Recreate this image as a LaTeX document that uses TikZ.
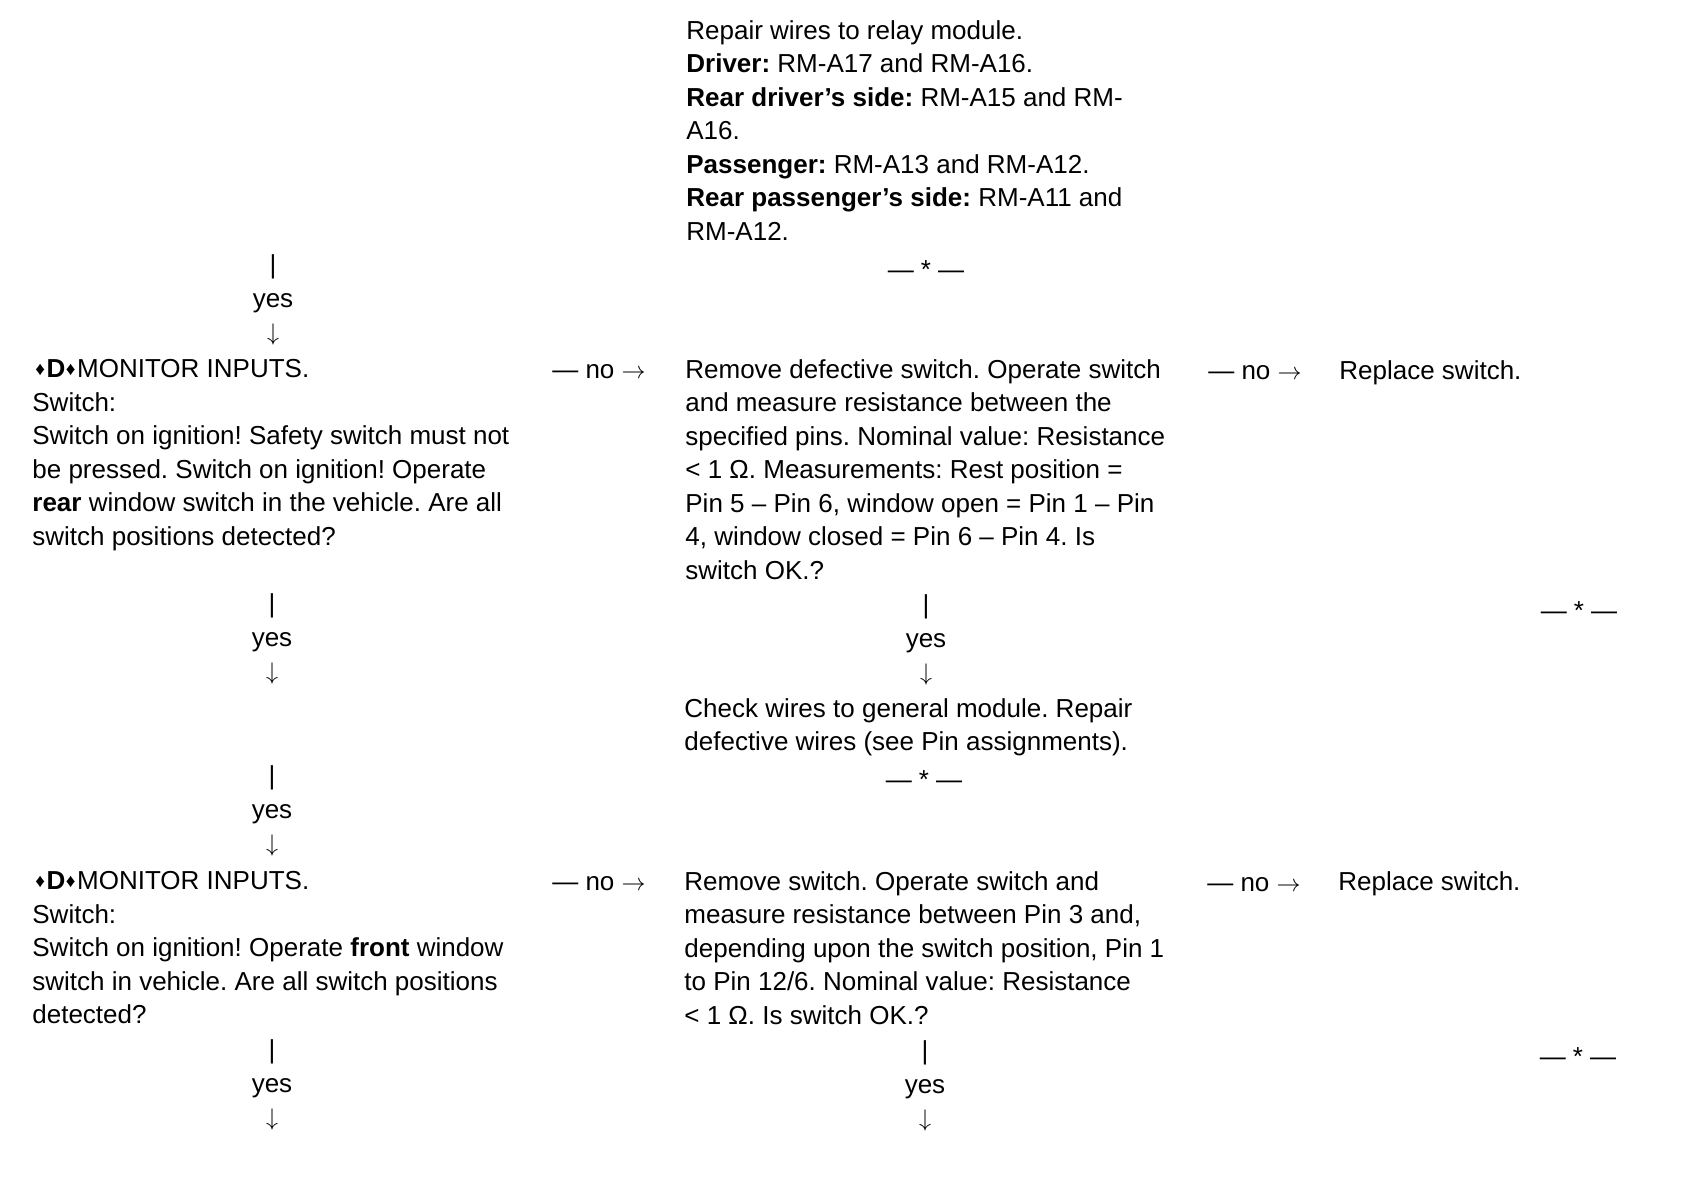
\documentclass[tikz,border=0pt]{standalone}
\usepackage{fontspec}
\setmainfont{Liberation Sans}
\usetikzlibrary{positioning}
\frenchspacing
\newcommand{\dmd}{{\fontsize{9.5}{9.5}\selectfont\raisebox{1.2pt}{♦}}}
\newcommand{\dmdD}{\hspace{1.5pt}\dmd\hspace{0.8pt}\textbf{D}\hspace{0.2pt}\dmd\hspace{0.8pt}}
\newcommand{\stopmark}{—\hspace{3.5pt}*\hspace{3.5pt}—}

\begin{document}
\begin{tikzpicture}[x=0.5pt, y=-0.5pt,
  txt/.style={anchor=north west, align=left, inner sep=0pt, font=\fontsize{13}{16.75}\selectfont},
  lbl/.style={inner sep=0pt, font=\fontsize{13}{16.75}\selectfont},
  flow/.style={lbl, align=center}]
\useasboundingbox (0,0) rectangle (1688,1184);
\node[txt] (rep) at (686,20) {Repair wires to relay module.\\
\textbf{Driver:} RM-A17 and RM-A16.\\
\textbf{Rear driver’s side:} RM-A15 and RM-\\
A16.\\
\textbf{Passenger:} RM-A13 and RM-A12.\\
\textbf{Rear passenger’s side:} RM-A11 and\\
RM-A12.};
\node[lbl] (end1) at (926,270) {\stopmark};
\node[flow] (yes1) at (273,300) {|\\yes\\$\downarrow$};
\node[txt] (d1) at (32,359) {\dmdD MONITOR INPUTS.\\
Switch:\\
Switch on ignition! Safety switch must not\\
be pressed. Switch on ignition! Operate\\
\textbf{rear} window switch in the vehicle. Are all\\
switch positions detected?};
\node[lbl] (no1) at (599,372) {— no $\rightarrow$};
\node[txt] (sw1) at (685,359) {Remove defective switch. Operate switch\\
and measure resistance between the\\
specified pins. Nominal value: Resistance\\
< 1 Ω. Measurements: Rest position =\\
Pin 5 – Pin 6, window open = Pin 1 – Pin\\
4, window closed = Pin 6 – Pin 4. Is\\
switch OK.?};
\node[lbl] (no2) at (1255,373) {— no $\rightarrow$};
\node[lbl, anchor=west] (rpl1) at (1339,373) {Replace switch.};
\node[lbl] (end2) at (1579,611) {\stopmark};
\node[flow] (yes2) at (272,639) {|\\yes\\$\downarrow$};
\node[flow] (yes3) at (926,640) {|\\yes\\$\downarrow$};
\node[txt] (wires) at (684,698) {Check wires to general module. Repair\\
defective wires (see Pin assignments).};
\node[lbl] (end3) at (924,780) {\stopmark};
\node[flow] (yes4) at (272,811) {|\\yes\\$\downarrow$};
\node[txt] (d2) at (32,871) {\dmdD MONITOR INPUTS.\\
Switch:\\
Switch on ignition! Operate \textbf{front} window\\
switch in vehicle. Are all switch positions\\
detected?};
\node[lbl] (no3) at (599,884) {— no $\rightarrow$};
\node[txt] (sw2) at (684,871) {Remove switch. Operate switch and\\
measure resistance between Pin 3 and,\\
depending upon the switch position, Pin 1\\
to Pin 12/6. Nominal value: Resistance\\
< 1 Ω. Is switch OK.?};
\node[lbl] (no4) at (1254,885) {— no $\rightarrow$};
\node[lbl, anchor=west] (rpl2) at (1338,884) {Replace switch.};
\node[lbl] (end4) at (1578,1057) {\stopmark};
\node[flow] (yes5) at (272,1085) {|\\yes\\$\downarrow$};
\node[flow] (yes6) at (925,1086) {|\\yes\\$\downarrow$};
\end{tikzpicture}
\end{document}
